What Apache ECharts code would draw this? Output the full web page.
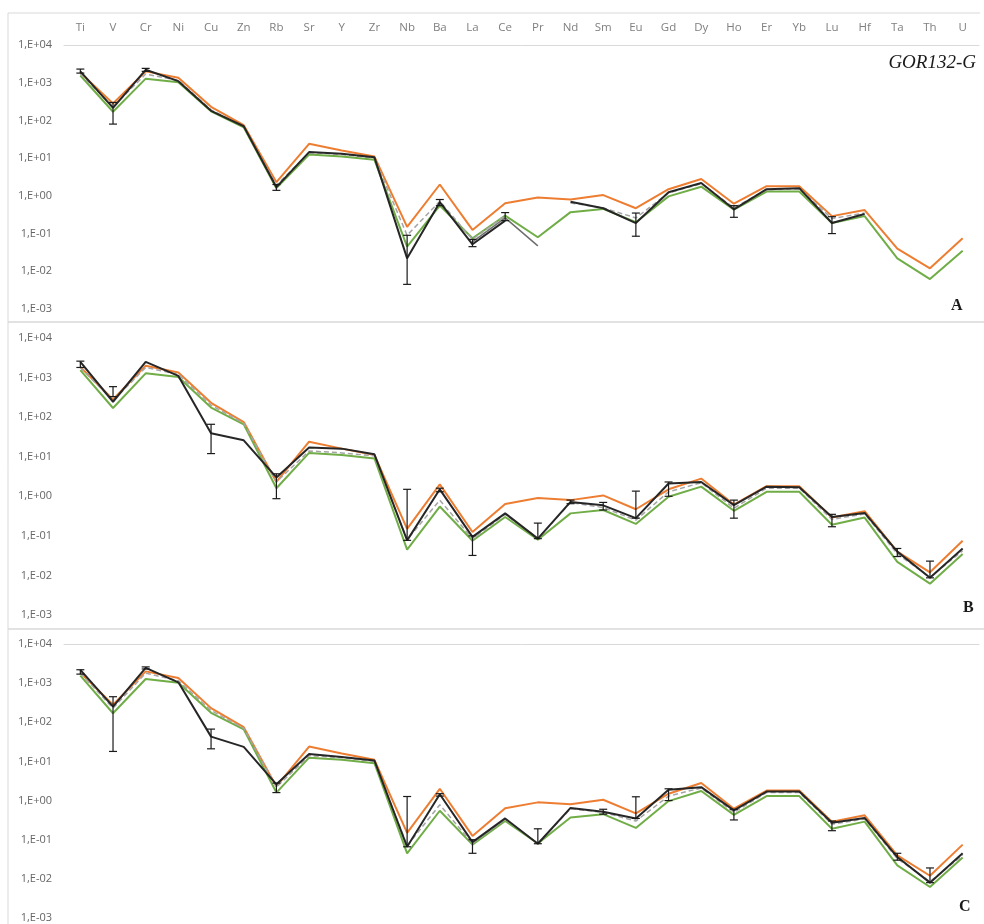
<!DOCTYPE html>
<html>
<head>
<meta charset="utf-8">
<script src="https://cdn.jsdelivr.net/npm/echarts@6/dist/echarts.min.js"></script>
<style>
  html, body { margin: 0; padding: 0; background: #fff; }
  #main { width: 984px; height: 924px; }
</style>
</head>
<body>
<div id="main"></div>
<script>
var elements = ['Ti','V','Cr','Ni','Cu','Zn','Rb','Sr','Y','Zr','Nb','Ba','La','Ce','Pr','Nd','Sm','Eu','Gd','Dy','Ho','Er','Yb','Lu','Hf','Ta','Th','U'];

// reference curves, same in every panel
var orangeRef = [1850,280,2000,1350,230,75,2.3,24,16,11,0.15,2.0,0.125,0.64,0.9,0.8,1.05,0.47,1.5,2.8,0.62,1.8,1.8,0.29,0.42,0.04,0.012,0.075];
var greenRef  = [1550,170,1280,1030,175,66,1.6,12.5,11,9,0.045,0.55,0.075,0.3,0.08,0.37,0.45,0.2,0.97,1.75,0.43,1.3,1.3,0.19,0.29,0.022,0.0062,0.035];

// panel A
var blackA = [2000,215,2200,1100,180,70,1.7,14.5,13,10.5,0.022,0.68,0.052,0.22,null,0.7,0.47,0.19,1.25,2.2,0.44,1.5,1.6,0.19,0.33,null,null,null];
var dashA  = [1700,230,1700,1150,190,68,1.9,14,12.5,10,0.09,0.72,0.07,0.3,null,0.65,0.48,0.26,1.2,2.1,0.48,1.45,1.55,0.25,0.35,null,null,null];
var greyA  = [null,null,null,null,null,null,null,null,null,null,null,null,0.06,0.26,0.047,null,null,null,null,null,null,null,null,null,null,null,null,null];
var errA = [[0,1800,2300],[1,80,300],[2,2000,2400],[6,1.4,2.0],[10,0.0045,0.09],[11,0.55,0.8],[12,0.045,0.07],[13,0.22,0.36],[17,0.085,0.35],[20,0.27,0.55],[23,0.1,0.28]];

// panel B
var blackB = [2500,245,2500,1100,39,26,3.0,17,16,11.5,0.077,1.5,0.094,0.37,0.085,0.72,0.59,0.28,2.1,2.3,0.6,1.75,1.7,0.3,0.38,0.04,0.0087,0.048];
var dashB  = [1800,260,1800,1200,200,70,2.3,14,12.5,10.5,0.08,0.8,0.085,0.35,0.085,0.7,0.52,0.25,1.3,2.2,0.5,1.6,1.6,0.26,0.36,0.035,0.009,0.042];
var errB = [[0,1800,2600],[1,330,590],[4,12,66],[6,0.87,3.7],[10,0.077,1.5],[11,1.3,1.6],[12,0.032,0.1],[14,0.085,0.21],[15,0.65,0.8],[16,0.45,0.7],[17,0.28,1.35],[18,1.0,2.3],[20,0.28,0.8],[23,0.17,0.35],[25,0.03,0.048],[26,0.0087,0.023]];

// panel C
var blackC = [2180,250,2450,1050,43,23.5,2.6,15.5,13,10.5,0.066,1.45,0.087,0.35,0.079,0.65,0.52,0.35,1.9,2.2,0.56,1.7,1.7,0.27,0.36,0.036,0.008,0.045];
var dashC  = [1800,230,1800,1150,200,70,2.2,14,12.5,10,0.07,0.78,0.08,0.33,0.08,0.62,0.5,0.3,1.3,2.1,0.5,1.6,1.6,0.25,0.34,0.033,0.0085,0.04];
var errC = [[0,1700,2200],[1,18,450],[2,2300,2600],[4,21,67],[6,1.6,2.8],[10,0.066,1.27],[11,1.3,1.5],[12,0.045,0.1],[14,0.079,0.19],[16,0.45,0.6],[17,0.35,1.25],[18,1.0,2.0],[20,0.32,0.6],[23,0.17,0.3],[25,0.03,0.045],[26,0.008,0.019]];

var myChart = echarts.init(document.getElementById('main'));

function expLabel(v) {
    var e = Math.round(Math.log(v) / Math.LN10);
    var a = Math.abs(e);
    return '1,E' + (e < 0 ? '-' : '+') + (a < 10 ? '0' : '') + a;
}

function errorBars(idx, data) {
    return {
        type: 'custom',
        xAxisIndex: idx, yAxisIndex: idx,
        z: 10,
        silent: true,
        data: data,
        renderItem: function (params, api) {
            var lo = api.coord([api.value(0), api.value(1)]);
            var hi = api.coord([api.value(0), api.value(2)]);
            var w = 4;
            var st = { stroke: '#1a1a1a', lineWidth: 1.2 };
            return {
                type: 'group',
                children: [
                    { type: 'line', shape: { x1: lo[0], y1: lo[1], x2: hi[0], y2: hi[1] }, style: st },
                    { type: 'line', shape: { x1: lo[0] - w, y1: lo[1], x2: lo[0] + w, y2: lo[1] }, style: st },
                    { type: 'line', shape: { x1: hi[0] - w, y1: hi[1], x2: hi[0] + w, y2: hi[1] }, style: st }
                ]
            };
        }
    };
}

function line(idx, data, color, width, dashed, z) {
    return {
        type: 'line',
        xAxisIndex: idx, yAxisIndex: idx,
        data: data,
        showSymbol: false,
        connectNulls: false,
        z: z,
        silent: true,
        lineStyle: { color: color, width: width, type: dashed ? [5, 3] : 'solid' }
    };
}

var grids = [
    { left: 64, right: 5, top: 45, height: 264 },
    { left: 64, right: 5, top: 338, height: 277 },
    { left: 64, right: 5, top: 644, height: 274 }
];

var xAxes = [0, 1, 2].map(function (i) {
    return {
        type: 'category',
        gridIndex: i,
        position: 'top',
        data: elements,
        boundaryGap: true,
        axisLine: { show: i !== 1, lineStyle: { color: '#d9d9d9', width: 1 } },
        axisTick: { show: false },
        axisLabel: { show: i === 0, color: '#7f7f7f', fontSize: 11.5, margin: 11, fontFamily: 'Open Sans' }
    };
});

var yAxes = [0, 1, 2].map(function (i) {
    return {
        type: 'log',
        logBase: 10,
        gridIndex: i,
        min: 0.001,
        max: 10000,
        interval: 1,
        axisLine: { show: false },
        axisTick: { show: false },
        splitLine: { show: false },
        axisLabel: { color: '#666666', fontSize: 11, margin: 12, fontFamily: 'Open Sans', formatter: expLabel }
    };
});

var option = {
    animation: false,
    backgroundColor: '#ffffff',
    grid: grids,
    xAxis: xAxes,
    yAxis: yAxes,
    graphic: [
        { type: 'line', shape: { x1: 8, y1: 13, x2: 980, y2: 13 }, style: { stroke: '#d9d9d9', lineWidth: 1 } },
        { type: 'line', shape: { x1: 8, y1: 322, x2: 984, y2: 322 }, style: { stroke: '#d9d9d9', lineWidth: 1.5 } },
        { type: 'line', shape: { x1: 8, y1: 629, x2: 984, y2: 629 }, style: { stroke: '#d9d9d9', lineWidth: 1.5 } },
        { type: 'line', shape: { x1: 8, y1: 13, x2: 8, y2: 924 }, style: { stroke: '#d9d9d9', lineWidth: 1 } },
        { type: 'text', right: 8, top: 53, style: { text: 'GOR132-G', font: 'italic 19px "Liberation Serif"', fill: '#1a1a1a' } },
        { type: 'text', left: 951, top: 298, style: { text: 'A', font: 'bold 16px "Liberation Serif"', fill: '#1a1a1a' } },
        { type: 'text', left: 963, top: 600, style: { text: 'B', font: 'bold 16px "Liberation Serif"', fill: '#1a1a1a' } },
        { type: 'text', left: 959, top: 899, style: { text: 'C', font: 'bold 16px "Liberation Serif"', fill: '#1a1a1a' } }
    ],
    series: [
        line(0, orangeRef, '#ED7D31', 2, false, 2),
        line(0, greenRef, '#70AD47', 2, false, 3),
        line(0, dashA, '#a5a5a5', 1.5, true, 4),
        line(0, greyA, '#6f6f6f', 1.5, false, 4),
        line(0, blackA, '#262626', 2, false, 5),
        errorBars(0, errA),

        line(1, orangeRef, '#ED7D31', 2, false, 2),
        line(1, greenRef, '#70AD47', 2, false, 3),
        line(1, dashB, '#a5a5a5', 1.5, true, 4),
        line(1, blackB, '#262626', 2, false, 5),
        errorBars(1, errB),

        line(2, orangeRef, '#ED7D31', 2, false, 2),
        line(2, greenRef, '#70AD47', 2, false, 3),
        line(2, dashC, '#a5a5a5', 1.5, true, 4),
        line(2, blackC, '#262626', 2, false, 5),
        errorBars(2, errC)
    ]
};

myChart.setOption(option);
</script>
</body>
</html>
